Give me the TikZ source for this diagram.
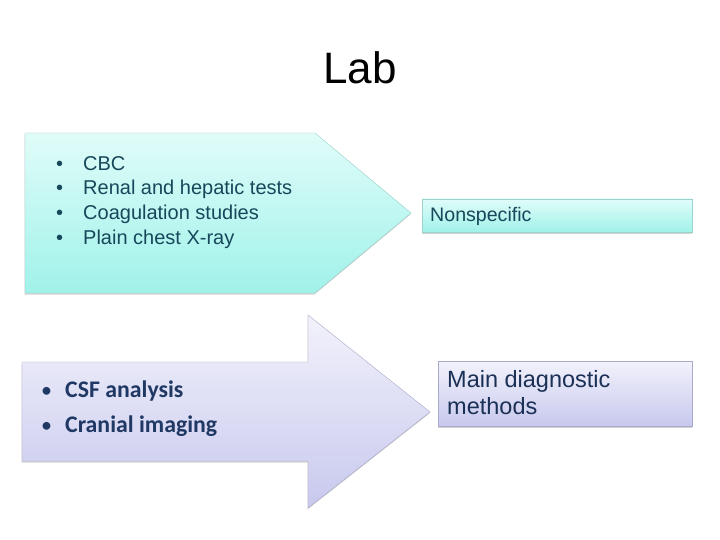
\documentclass[tikz,border=0pt]{standalone}
\usepackage{fontspec}
\setmainfont{Liberation Sans}
\newfontfamily\calfont{Carlito}
\usetikzlibrary{shadows}
\definecolor{tealtext}{HTML}{17475A}
\definecolor{navytext}{HTML}{1F3864}
\definecolor{cyantop}{HTML}{E0FCF9}
\definecolor{cyanbot}{HTML}{A0F2EA}
\definecolor{cyanline}{HTML}{9CD2CA}
\definecolor{lavtop}{HTML}{F2F2FC}
\definecolor{lavbot}{HTML}{C8C8EE}
\definecolor{lavline}{HTML}{A9A9C9}
\tikzset{
  cyanshape/.style={draw=cyanline,top color=cyantop,bottom color=cyanbot,
    drop shadow={shadow xshift=-.5pt,shadow yshift=-1.5pt,opacity=.35}},
  lavshape/.style={draw=lavline,top color=lavtop,bottom color=lavbot,
    drop shadow={shadow xshift=-.5pt,shadow yshift=-1.5pt,opacity=.35}},
  toptext/.style={inner sep=0pt,text=tealtext,font=\fontsize{20}{24}\selectfont},
  lowtext/.style={inner sep=0pt,text=navytext,font=\calfont\bfseries\fontsize{23.8}{28}\selectfont},
  lowdot/.style={inner sep=0pt,text=navytext,font=\calfont\fontsize{22}{28}\selectfont},
  sidetext/.style={inner sep=0pt,text=navytext!85!black,font=\fontsize{23.5}{27}\selectfont}
}
\begin{document}
\begin{tikzpicture}[x=1pt,y=-1pt]
\fill[white] (0,0) rectangle (720,540);
\useasboundingbox (0,0) rectangle (720,540);
\node[inner sep=0pt,font=\fontsize{44}{50}\selectfont,anchor=base] (title) at (360,84) {Lab};
% upper pentagon and its box
\path[cyanshape] (25,133) -- (315,133) -- (411,213) -- (315,293) -- (25,293) -- cycle;
\foreach \t [count=\i] in {CBC,Renal and hepatic tests,Coagulation studies,Plain chest X-ray}{
  \node[toptext,anchor=base west] (labdot\i) at (56,145.5+24.7*\i) {\textbullet};
  \node[toptext,anchor=base west] (lab\i) at (83,145.5+24.7*\i) {\t};
}
\path[cyanshape] (422,199) rectangle (692,232);
\node[toptext,font=\fontsize{19.6}{24}\selectfont,anchor=base west] (nonspec) at (430,222) {Nonspecific};
% lower arrow and its box
\path[lavshape] (22,362) -- (308,362) -- (308,315) -- (430,412) -- (308,508)
  -- (308,461) -- (22,461) -- cycle;
\foreach \t [count=\i] in {CSF analysis,Cranial imaging}{
  \node[lowdot,anchor=base west] (csfdot\i) at (41,362+35*\i) {\textbullet};
  \node[lowtext,anchor=base west] (csf\i) at (65,362+35*\i) {\t};
}
\path[lavshape] (438,361) rectangle (692,426);
\node[sidetext,anchor=base west] (main1) at (447,387) {Main diagnostic};
\node[sidetext,anchor=base west] (main2) at (447,414) {methods};
\end{tikzpicture}
\end{document}
